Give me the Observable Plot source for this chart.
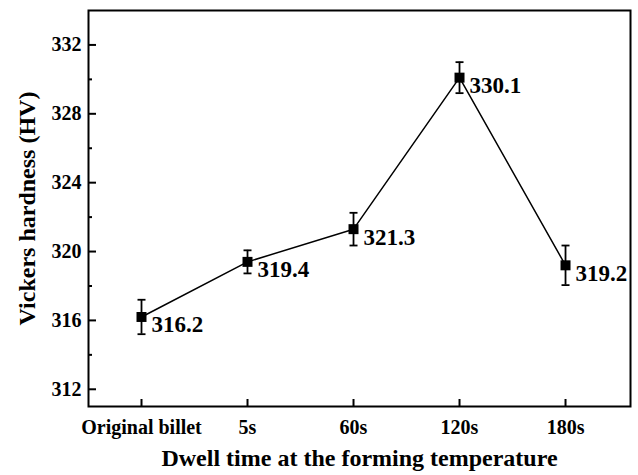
<!DOCTYPE html>
<html><head><meta charset="utf-8">
<script src="https://cdn.jsdelivr.net/npm/d3@7"></script>
<script src="https://cdn.jsdelivr.net/npm/@observablehq/plot@0.6"></script>
<style>body{margin:0;background:#fff} svg text{font-family:"Liberation Serif","Times New Roman",serif !important;font-weight:bold;}</style>
</head><body><div id="chart"></div>
<script>
const categories = ["Original billet", "5s", "60s", "120s", "180s"];
const hardness = [316.2, 319.4, 321.3, 330.1, 319.2];
const errors = [1.0, 0.67, 0.95, 0.9, 1.15];
const yTicks = [312, 316, 320, 324, 328, 332];
const yMinorTicks = [314, 318, 322, 326, 330];
const xTicks = [0, 1, 2, 3, 4];
const xTitle = "Dwell time at the forming temperature";
const yTitle = "Vickers hardness (HV)";

const data = categories.map((c, i) => ({
  i, c, v: hardness[i],
  lo: hardness[i] - errors[i], hi: hardness[i] + errors[i],
  label: hardness[i].toFixed(1)
}));
const capSymbol = {draw(ctx, size) { const r = Math.sqrt(size / Math.PI); ctx.moveTo(-r, 0); ctx.lineTo(r, 0); }};
const font = "Liberation Serif";

const chart = Plot.plot({
  width: 638, height: 475,
  marginLeft: 88, marginRight: 8, marginTop: 10, marginBottom: 69,
  style: {fontFamily: font, fontWeight: "bold", fontSize: "20px", color: "#000", background: "#fff"},
  x: {domain: [-0.5, 4.613]},
  y: {domain: [311, 334]},
  marks: [
    Plot.axisY(yMinorTicks, {tickSize: -4, tickFormat: () => "", strokeWidth: 2, label: null}),
    Plot.axisY(yTicks, {tickSize: -8, tickPadding: 15, strokeWidth: 2, fontSize: 20, fontFamily: font, fontVariant: "normal", label: null}),
    Plot.axisX(xTicks, {tickSize: -7, tickPadding: 20, tickFormat: i => categories[i], strokeWidth: 2, fontSize: 20, fontFamily: font, label: null}),
    Plot.frame({strokeWidth: 2}),
    Plot.line(data, {x: "i", y: "v", stroke: "black", strokeWidth: 1.5}),
    Plot.ruleX(data, {x: "i", y1: "lo", y2: "hi", stroke: "black", strokeWidth: 1.8}),
    Plot.dot(data, {x: "i", y: "lo", symbol: capSymbol, r: 4, stroke: "black", strokeWidth: 1.8}),
    Plot.dot(data, {x: "i", y: "hi", symbol: capSymbol, r: 4, stroke: "black", strokeWidth: 1.8}),
    Plot.dot(data, {x: "i", y: "v", symbol: "square", r: 5.64, fill: "black", stroke: null}),
    Plot.text(data, {x: "i", y: "v", text: "label", textAnchor: "start", dx: 10, dy: 8, fontSize: 23, fontFamily: font, fill: "black"}),
    Plot.text([xTitle], {frameAnchor: "bottom", textAnchor: "middle", lineAnchor: "middle", dy: 52, fontSize: 24, fontFamily: font, fill: "black"}),
    Plot.text([yTitle], {frameAnchor: "left", textAnchor: "middle", lineAnchor: "middle", dx: -61, rotate: -90, fontSize: 24, fontFamily: font, fill: "black"})
  ]
});
document.getElementById("chart").append(chart);
</script>
</body></html>
